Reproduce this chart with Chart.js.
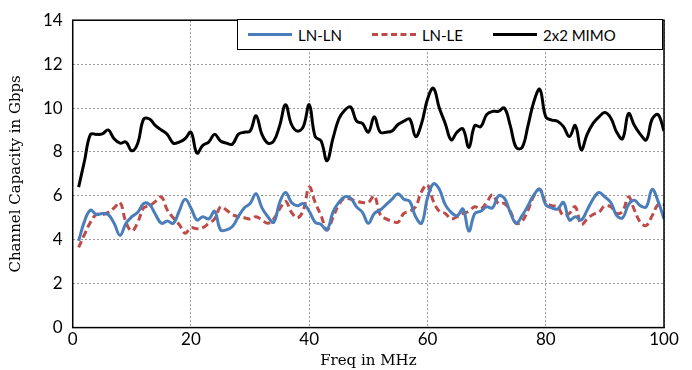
<!DOCTYPE html>
<html>
<head>
<meta charset="utf-8">
<script src="https://cdn.jsdelivr.net/npm/chart.js@4"></script>
<style>
  body { margin: 0; background: #fff; }
  #wrap { position: relative; width: 692px; height: 370px; }
  #legend {
    position: absolute; left: 237px; top: 19px; width: 424px; height: 29px;
    border: 1.5px solid #000; background: #fff;
    font-family: Lato, "Open Sans", sans-serif; font-size: 15px; color: #000;
    display: flex; align-items: center;
  }
  .item { display: flex; align-items: center; margin-left: 10px; margin-right: 20px; }
  .item span.sw { display: inline-block; width: 44px; height: 0; margin-right: 6px; }
</style>
</head>
<body>
<div id="wrap">
  <canvas id="chart" width="692" height="370"></canvas>
  <div id="legend"></div>
</div>
<script>
// frequency points in MHz
const freq = [];
for (let f = 1; f <= 100; f++) freq.push(f);

const lnLn = [
  3.95, 4.85, 5.35, 5.15, 5.2, 5.15, 4.75, 4.2, 4.75, 5.05,
  5.25, 5.65, 5.6, 5.15, 4.75, 4.85, 4.75, 5.3, 5.85, 5.45,
  4.9, 5.05, 4.95, 5.3, 4.45, 4.45, 4.6, 5.05, 5.45, 5.65,
  6.1, 5.45, 5.05, 4.8, 5.7, 6.15, 5.7, 5.55, 5.65, 5.3,
  4.8, 4.7, 4.45, 5.25, 5.7, 5.95, 5.9, 5.5, 5.25, 4.75,
  5.2, 5.35, 5.6, 5.85, 6.1, 5.85, 5.75, 5.05, 4.75, 5.9,
  6.55, 6.3, 5.6, 5.25, 5.1, 5.4, 4.4, 5.2, 5.3, 5.5,
  5.45, 6.0, 5.9, 5.25, 4.75, 5.1, 5.55, 6.05, 6.3, 5.6,
  5.45, 5.4, 5.7, 4.9, 5.05, 4.9, 5.35, 5.85, 6.15, 5.95,
  5.7, 5.1, 5.0, 5.6, 5.8, 5.55, 5.5, 6.3, 5.75, 4.95
];

const lnLe = [
  3.65, 4.25, 4.8, 5.15, 5.15, 5.25, 5.45, 5.7, 4.8, 4.4,
  4.8, 5.45, 5.55, 5.75, 5.95, 5.35, 5.0, 4.7, 4.3, 4.55,
  4.5, 4.55, 4.75, 4.95, 5.5, 5.35, 5.15, 5.05, 5.0, 4.95,
  5.05, 4.9, 4.75, 4.95, 5.4, 5.75, 5.25, 5.0, 5.35, 6.4,
  5.7, 5.1, 4.45, 5.0, 5.6, 5.9, 5.85, 5.75, 5.7, 5.7,
  6.0, 5.15, 4.95, 4.85, 4.8, 5.2, 5.3, 5.5, 6.2, 6.5,
  5.75, 5.3, 5.2, 4.95, 5.05, 5.2, 5.3, 5.5, 5.4, 5.7,
  6.05, 5.65, 5.65, 5.3, 4.75, 4.85, 5.35, 6.0, 6.3, 5.7,
  5.55, 5.5, 5.1, 5.2, 5.5, 4.7, 4.95, 5.15, 5.25, 5.55,
  5.5, 5.2, 5.3, 5.95, 5.35, 4.8, 4.65, 5.1, 5.6, 5.6
];

const mimo = [
  6.4, 7.6, 8.8, 8.8, 8.82, 9.0, 8.6, 8.4, 8.45, 8.05,
  8.4, 9.5, 9.5, 9.2, 9.0, 8.8, 8.4, 8.45, 8.6, 8.9,
  7.95, 8.3, 8.45, 8.8, 8.5, 8.4, 8.35, 8.8, 8.9, 8.95,
  9.65, 8.8, 8.4, 8.5, 9.2, 10.15, 9.25, 8.95, 9.15, 10.15,
  8.7, 8.5, 7.6, 8.6, 9.5, 9.9, 10.05, 9.4, 9.3, 8.9,
  9.6, 8.9, 8.9, 8.95, 9.25, 9.4, 9.5, 8.7, 9.3, 10.4,
  10.9, 10.0, 9.3, 8.55, 8.9, 9.05, 8.2, 9.2, 9.15, 9.7,
  9.85, 9.85, 10.0, 9.2, 8.2, 8.2, 9.2, 10.3, 10.85, 9.6,
  9.45, 9.4, 9.15, 8.7, 9.2, 8.1, 8.8, 9.3, 9.6, 9.8,
  9.55, 8.9, 8.6, 9.75, 9.2, 8.8, 8.55, 9.5, 9.7, 8.95
];

const seriesNames = ['LN-LN', 'LN-LE', '2x2 MIMO'];
const seriesColors = ['#4A7EBB', '#BE4B48', '#000000'];
const xTicks = [0, 20, 40, 60, 80, 100];

const tickFont = { family: 'Lato, "Open Sans", sans-serif', size: 17 };
const titleFont = { family: '"DejaVu Serif", "Liberation Serif", serif', size: 15 };

function toPoints(values) {
    return values.map((v, i) => ({ x: freq[i], y: v }));
}

// black frame round the plot area
const frame = {
    id: 'frame',
    afterDraw(chart) {
        const a = chart.chartArea;
        const ctx = chart.ctx;
        ctx.save();
        ctx.strokeStyle = '#000';
        ctx.lineWidth = 1.5;
        ctx.strokeRect(a.left, a.top, a.right - a.left, a.bottom - a.top);
        ctx.restore();
    }
};

const datasets = [
    {
        label: seriesNames[0],
        data: toPoints(lnLn),
        borderColor: seriesColors[0],
        borderWidth: 3,
        pointRadius: 0,
        tension: 0.4
    },
    {
        label: seriesNames[1],
        data: toPoints(lnLe),
        borderColor: seriesColors[1],
        borderWidth: 3,
        borderDash: [7, 4],
        pointRadius: 0,
        tension: 0.4
    },
    {
        label: seriesNames[2],
        data: toPoints(mimo),
        borderColor: seriesColors[2],
        borderWidth: 3,
        pointRadius: 0,
        tension: 0.4
    }
];

new Chart(document.getElementById('chart').getContext('2d'), {
    type: 'line',
    data: { datasets },
    plugins: [frame],
    options: {
        responsive: false,
        animation: false,
        layout: { padding: { top: 8, right: 28, left: 7, bottom: 0 } },
        plugins: {
            legend: { display: false },
            tooltip: { enabled: false }
        },
        scales: {
            x: {
                type: 'linear',
                min: 0,
                max: 100,
                afterBuildTicks: axis => { axis.ticks = xTicks.map(v => ({ value: v })); },
                ticks: { color: '#000', font: tickFont, padding: 2, maxRotation: 0 },
                grid: { color: '#999', lineWidth: 1, drawTicks: false },
                border: { display: true, color: '#000', dash: [2, 2] },
                title: { display: true, text: 'Freq in MHz', color: '#000', font: titleFont, padding: { top: 0, bottom: 0 } }
            },
            y: {
                min: 0,
                max: 14,
                ticks: { stepSize: 2, color: '#000', font: tickFont, padding: 10 },
                grid: { color: '#999', lineWidth: 1, drawTicks: false },
                border: { display: true, color: '#000', dash: [2, 2] },
                title: { display: true, text: 'Channel Capacity in Gbps', color: '#000', font: titleFont, padding: { top: 0, bottom: 8 } }
            }
        }
    }
});

// legend inside the plot, drawn as html
const legend = document.getElementById('legend');
seriesNames.forEach((name, i) => {
    const item = document.createElement('div');
    item.className = 'item';
    const sw = document.createElement('span');
    sw.className = 'sw';
    sw.style.borderTop = '3px ' + (i === 1 ? 'dashed ' : 'solid ') + seriesColors[i];
    item.appendChild(sw);
    item.appendChild(document.createTextNode(name));
    legend.appendChild(item);
});
</script>
</body>
</html>
